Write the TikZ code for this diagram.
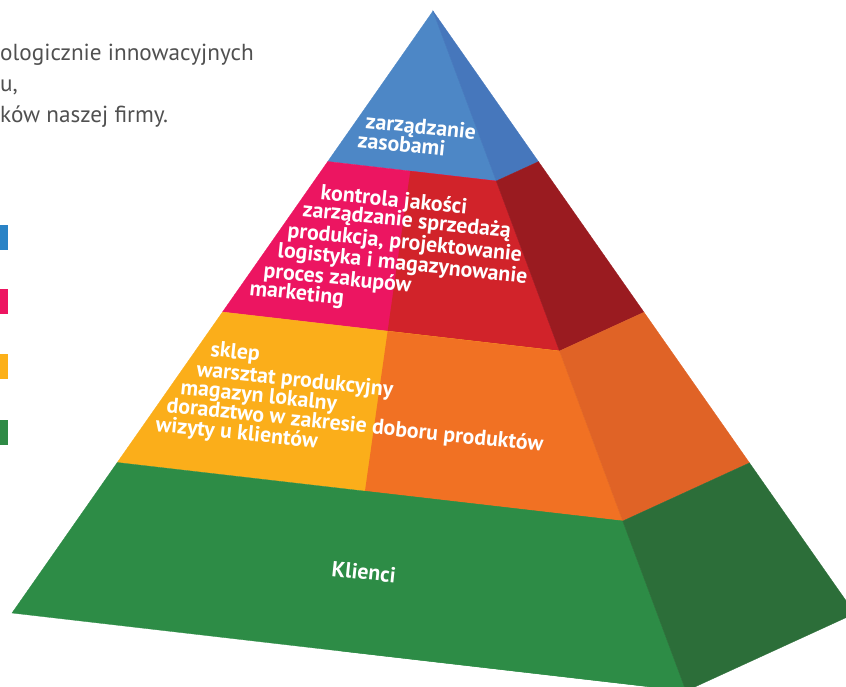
\documentclass[tikz,border=0pt]{standalone}
\usepackage{fontspec}
\setmainfont{PT Sans}
\usepackage{tikz}
\usetikzlibrary{calc}

\definecolor{grisTexto}{RGB}{80,80,80}
\definecolor{azulLeyenda}{RGB}{42,131,198}
\definecolor{rosaLeyenda}{RGB}{237,21,97}
\definecolor{amarilloLeyenda}{RGB}{252,176,25}
\definecolor{verdeLeyenda}{RGB}{46,138,69}
\definecolor{azul}{RGB}{77,135,198}
\definecolor{azulLado}{RGB}{70,119,188}
\definecolor{rosa}{RGB}{236,21,97}
\definecolor{rojo}{RGB}{209,35,42}
\definecolor{rojoLado}{RGB}{154,27,32}
\definecolor{amarillo}{RGB}{251,174,26}
\definecolor{naranja}{RGB}{241,113,35}
\definecolor{naranjaLado}{RGB}{224,99,38}
\definecolor{verde}{RGB}{45,140,70}
\definecolor{verdeLado}{RGB}{44,110,57}

\begin{document}
\begin{tikzpicture}[
    x=1pt, y=-1pt,
    % Estilo para las caras de la piramide
    cara/.style={line width=0.3pt},
    % Estilo para las etiquetas blancas (texto inclinado)
    etiqueta/.style={
        anchor=base west,
        rotate=-6,
        inner sep=0pt,
        text=white,
        font=\bfseries\fontsize{21.8}{22}\selectfont
    },
    % Estilo para el texto gris de la izquierda
    texto/.style={
        anchor=base west,
        inner sep=0pt,
        text=grisTexto,
        font=\fontsize{23.2}{26}\selectfont
    }
]

    \useasboundingbox (0,0) rectangle (846,686);

    % --- 1. TEXTO LATERAL ---
    \node[texto] (linea1) at (0,60) {ologicznie innowacyjnych};
    \node[texto] (linea2) at (0,91) {u,};
    \node[texto] (linea3) at (0,122) {ków naszej firmy.};

    % --- 2. LEYENDA (cuadros de color) ---
    \foreach \y/\c in {225/azulLeyenda, 289/rosaLeyenda, 354/amarilloLeyenda, 420/verdeLeyenda} {
        \fill[\c] (0,\y) rectangle (8,\y+25);
    }

    % --- 3. LA PIRAMIDE ---
    % Vertices base
    \coordinate (A) at (433,11);    % Cuspide
    \coordinate (L) at (12,613);    % Esquina izquierda
    \coordinate (F) at (686,691);   % Esquina frontal
    \coordinate (R) at (855,613.5); % Esquina derecha
    \coordinate (M) at ($(L)!0.49!(F)$); % Division de la cara frontal

    \begin{scope}
        \clip (0,0) rectangle (846,686);
        \foreach \a/\b/\cl/\cr/\cs in {0/0.25/azul/azul/azulLado,
                                       0.25/0.5/rosa/rojo/rojoLado,
                                       0.5/0.75/amarillo/naranja/naranjaLado,
                                       0.75/1/verde/verde/verdeLado} {
            % Cara frontal completa
            \filldraw[cara, \cl] ($(A)!\a!(L)$) -- ($(A)!\b!(L)$) -- ($(A)!\b!(F)$) -- ($(A)!\a!(F)$) -- cycle;
            % Cara frontal, mitad derecha
            \fill[\cr] ($(A)!\a!(M)$) -- ($(A)!\b!(M)$) -- ($(A)!\b!(F)$) -- ($(A)!\a!(F)$) -- cycle;
            % Cara lateral
            \filldraw[cara, \cs] ($(A)!\a!(F)$) -- ($(A)!\b!(F)$) -- ($(A)!\b!(R)$) -- ($(A)!\a!(R)$) -- cycle;
        }
    \end{scope}

    % --- 4. ETIQUETAS ---
    % Nivel azul
    \foreach \x/\y/\txt [count=\i] in {365/128/zarządzanie, 357/147/zasobami} {
        \node[etiqueta] (azul\i) at (\x,\y) {\txt};
    }

    % Nivel rosa/rojo
    \foreach \x/\y/\txt [count=\i] in {320/199/kontrola jakości,
                                      302/216/zarządzanie sprzedażą,
                                      287/237/{produkcja, projektowanie},
                                      277/257/logistyka i magazynowanie,
                                      263/277/proces zakupów,
                                      249/295/marketing} {
        \node[etiqueta] (rosa\i) at (\x,\y) {\txt};
    }

    % Nivel amarillo/naranja
    \foreach \x/\y/\txt [count=\i] in {210/356/sklep,
                                      196/376/warsztat produkcyjny,
                                      180/394/magazyn lokalny,
                                      166/412/doradztwo w zakresie doboru produktów,
                                      155/431/wizyty u klientów} {
        \node[etiqueta] (amarillo\i) at (\x,\y) {\txt};
    }

    % Nivel verde
    \node[etiqueta] (verde1) at (331,576) {Klienci};

\end{tikzpicture}
\end{document}
